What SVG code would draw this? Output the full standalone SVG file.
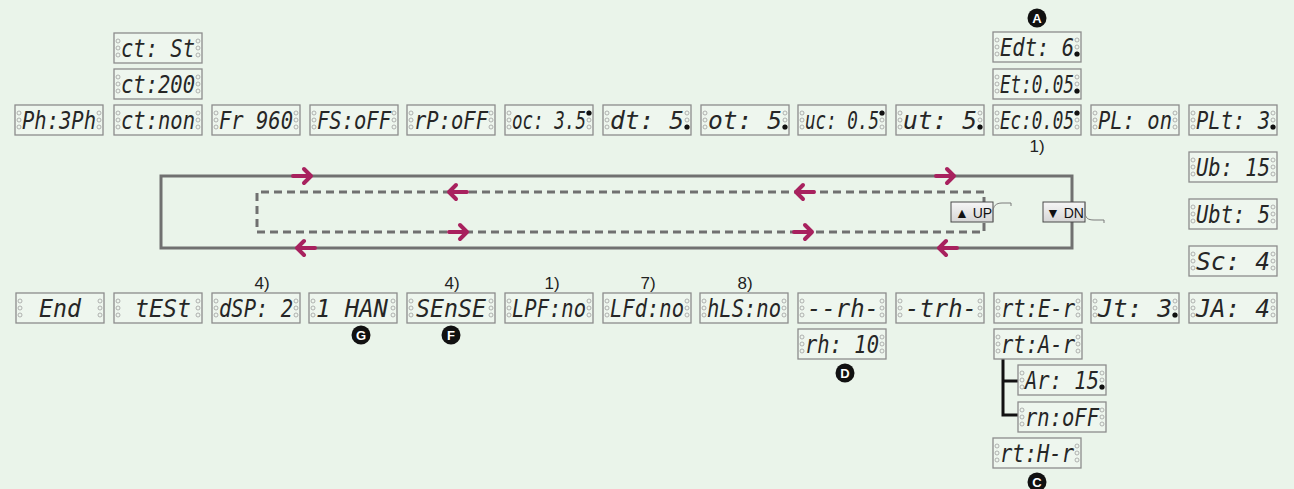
<svg xmlns="http://www.w3.org/2000/svg" xmlns:xlink="http://www.w3.org/1999/xlink" width="1294" height="489" viewBox="0 0 1294 489" xml:space="preserve">
<defs>
<style>
.bg{fill:#EAF4EA}
.frame{fill:#EEF6EE;stroke:#8C8C8C;stroke-width:1.3}
.led{fill:none;stroke:#A0A0A0;stroke-width:0.8}
.lit{fill:#111}
.seg{font-family:"DejaVu Sans Mono","Liberation Mono",monospace;font-style:italic;font-size:25px;fill:#262626}
.note{font-family:"Liberation Sans",Arial,sans-serif;font-size:17px;fill:#222;text-anchor:middle}
.badge{fill:#111}
.badgeT{font-family:"Liberation Sans",Arial,sans-serif;font-weight:bold;font-size:13px;fill:#fff;text-anchor:middle}
.loop{fill:none;stroke:#707070;stroke-width:3}
.dash{fill:none;stroke:#707070;stroke-width:3;stroke-dasharray:8 5}
.arr{fill:none;stroke:#A8215E;stroke-width:4;stroke-linecap:round;stroke-linejoin:round}
.tree{fill:none;stroke:#111;stroke-width:3}
.btn{fill:url(#btnG);stroke:#4A4A4A;stroke-width:1}
.fin{fill:none;stroke:#7A7A7A;stroke-width:1}
.btnT{font-family:"Liberation Sans",Arial,sans-serif;font-size:14px;fill:#111}
</style>
<linearGradient id="btnG" x1="0" y1="0" x2="0" y2="1">
<stop offset="0" stop-color="#F6F6F6"/>
<stop offset="1" stop-color="#D6D6D6"/>
</linearGradient>
<symbol id="disp" width="88" height="30" overflow="visible">
<rect class="frame" x="0" y="0" width="88" height="30"/>
<circle class="led" cx="4" cy="8" r="2"/><circle class="led" cx="4" cy="15" r="2"/><circle class="led" cx="4" cy="22" r="2"/>
<circle class="led" cx="84" cy="8" r="2"/><circle class="led" cx="84" cy="15" r="2"/><circle class="led" cx="84" cy="22" r="2"/>
</symbol>
</defs>
<rect class="bg" x="0" y="0" width="1294" height="489"/>

<g id="connectors">
<rect class="loop" x="161" y="176" width="911" height="72"/>
<path class="dash" d="M984,192 H257 V232 H984 V192"/>
<path class="arr" d="M293,176 H311 M304,169 L311,176 L304,183"/>
<path class="arr" d="M936,176 H954 M947,169 L954,176 L947,183"/>
<path class="arr" d="M315,248 H297 M304,241 L297,248 L304,255"/>
<path class="arr" d="M957,248 H939 M946,241 L939,248 L946,255"/>
<path class="arr" d="M467,192 H449 M456,185 L449,192 L456,199"/>
<path class="arr" d="M814,192 H796 M803,185 L796,192 L803,199"/>
<path class="arr" d="M449,232 H467 M460,225 L467,232 L460,239"/>
<path class="arr" d="M794,232 H812 M805,225 L812,232 L805,239"/>
<path class="tree" d="M1003,358 V415 H1018 M1003,381 H1018"/>
</g>

<g id="btn-up">
<rect class="btn" x="951" y="202" width="42" height="20"/>
<path class="fin" d="M993,222 V212 C993,206 996,203 1002,203 H1011 V206"/>
<text class="btnT" x="955" y="217.5">▲ UP</text>
</g>
<g id="btn-dn">
<rect class="btn" x="1043" y="202" width="42" height="20"/>
<path class="fin" d="M1085,202 V212 C1085,218 1088,220 1094,220 H1104 V223"/>
<text class="btnT" x="1046" y="217.5">▼ DN</text>
</g>

<g id="d-ctst"><use href="#disp" x="114" y="33"/><text class="seg" x="121" y="57" textLength="74" lengthAdjust="spacingAndGlyphs">ct: St</text></g>
<g id="d-ct200"><use href="#disp" x="114" y="69"/><text class="seg" x="121" y="93" textLength="74" lengthAdjust="spacingAndGlyphs">ct:200</text></g>
<g id="d-ph"><use href="#disp" x="15" y="105"/><text class="seg" x="22" y="129" textLength="74" lengthAdjust="spacingAndGlyphs">Ph:3Ph</text></g>
<g id="d-ctnon"><use href="#disp" x="114" y="105"/><text class="seg" x="121" y="129" textLength="74" lengthAdjust="spacingAndGlyphs">ct:non</text></g>
<g id="d-fr"><use href="#disp" x="212" y="105"/><text class="seg" x="219" y="129" textLength="74" lengthAdjust="spacingAndGlyphs">Fr 960</text></g>
<g id="d-fs"><use href="#disp" x="310" y="105"/><text class="seg" x="317" y="129" textLength="74" lengthAdjust="spacingAndGlyphs">FS:oFF</text></g>
<g id="d-rp"><use href="#disp" x="407" y="105"/><text class="seg" x="414" y="129" textLength="74" lengthAdjust="spacingAndGlyphs">rP:oFF</text></g>
<g id="d-oc"><use href="#disp" x="505" y="105"/><text class="seg" x="512" y="129" textLength="74" lengthAdjust="spacingAndGlyphs">oc: 3.5</text><circle class="lit" cx="589" cy="113" r="2.6"/></g>
<g id="d-dt"><use href="#disp" x="603" y="105"/><text class="seg" x="610" y="129" textLength="74" lengthAdjust="spacingAndGlyphs">dt:  5</text><circle class="lit" cx="687" cy="127" r="2.6"/></g>
<g id="d-ot"><use href="#disp" x="701" y="105"/><text class="seg" x="708" y="129" textLength="74" lengthAdjust="spacingAndGlyphs">ot:  5</text><circle class="lit" cx="785" cy="127" r="2.6"/></g>
<g id="d-uc"><use href="#disp" x="798" y="105"/><text class="seg" x="805" y="129" textLength="74" lengthAdjust="spacingAndGlyphs">uc: 0.5</text><circle class="lit" cx="882" cy="113" r="2.6"/></g>
<g id="d-ut"><use href="#disp" x="896" y="105"/><text class="seg" x="903" y="129" textLength="74" lengthAdjust="spacingAndGlyphs">ut:  5</text><circle class="lit" cx="980" cy="127" r="2.6"/></g>
<g id="d-ec"><use href="#disp" x="993" y="105"/><text class="seg" x="1000" y="129" textLength="74" lengthAdjust="spacingAndGlyphs">Ec:0.05</text><circle class="lit" cx="1077" cy="113" r="2.6"/></g>
<g id="d-pl"><use href="#disp" x="1091" y="105"/><text class="seg" x="1098" y="129" textLength="74" lengthAdjust="spacingAndGlyphs">PL: on</text></g>
<g id="d-plt"><use href="#disp" x="1189" y="105"/><text class="seg" x="1196" y="129" textLength="74" lengthAdjust="spacingAndGlyphs">PLt: 3</text><circle class="lit" cx="1273" cy="127" r="2.6"/></g>
<g id="d-edt"><use href="#disp" x="993" y="32"/><text class="seg" x="1000" y="56" textLength="74" lengthAdjust="spacingAndGlyphs">Edt: 6</text><circle class="lit" cx="1077" cy="54" r="2.6"/></g>
<g id="d-et"><use href="#disp" x="993" y="69"/><text class="seg" x="1000" y="93" textLength="74" lengthAdjust="spacingAndGlyphs">Et:0.05</text><circle class="lit" cx="1077" cy="91" r="2.6"/></g>
<g id="d-ub"><use href="#disp" x="1189" y="152"/><text class="seg" x="1196" y="176" textLength="74" lengthAdjust="spacingAndGlyphs">Ub: 15</text></g>
<g id="d-ubt"><use href="#disp" x="1189" y="199"/><text class="seg" x="1196" y="223" textLength="74" lengthAdjust="spacingAndGlyphs">Ubt: 5</text></g>
<g id="d-sc"><use href="#disp" x="1189" y="246"/><text class="seg" x="1196" y="270" textLength="74" lengthAdjust="spacingAndGlyphs">Sc:  4</text></g>

<g id="d-end"><use href="#disp" x="16" y="293"/><text class="seg" x="39" y="317" textLength="42" lengthAdjust="spacingAndGlyphs">End</text></g>
<g id="d-test"><use href="#disp" x="114" y="293"/><text class="seg" x="135" y="317" textLength="56" lengthAdjust="spacingAndGlyphs">tESt</text></g>
<g id="d-dsp"><use href="#disp" x="212" y="293"/><text class="seg" x="219" y="317" textLength="74" lengthAdjust="spacingAndGlyphs">dSP: 2</text></g>
<g id="d-han"><use href="#disp" x="309" y="293"/><text class="seg" x="316" y="317" textLength="72" lengthAdjust="spacingAndGlyphs">1 HAN</text></g>
<g id="d-sense"><use href="#disp" x="407" y="293"/><text class="seg" x="416" y="317" textLength="70" lengthAdjust="spacingAndGlyphs">SEnSE</text></g>
<g id="d-lpf"><use href="#disp" x="505" y="293"/><text class="seg" x="512" y="317" textLength="74" lengthAdjust="spacingAndGlyphs">LPF:no</text></g>
<g id="d-lfd"><use href="#disp" x="603" y="293"/><text class="seg" x="610" y="317" textLength="74" lengthAdjust="spacingAndGlyphs">LFd:no</text></g>
<g id="d-hls"><use href="#disp" x="700" y="293"/><text class="seg" x="707" y="317" textLength="74" lengthAdjust="spacingAndGlyphs">hLS:no</text></g>
<g id="d-rh"><use href="#disp" x="798" y="293"/><text class="seg" x="807" y="317" textLength="72" lengthAdjust="spacingAndGlyphs">--rh-</text></g>
<g id="d-trh"><use href="#disp" x="896" y="293"/><text class="seg" x="905" y="317" textLength="72" lengthAdjust="spacingAndGlyphs">-trh-</text></g>
<g id="d-rte"><use href="#disp" x="994" y="293"/><text class="seg" x="1001" y="317" textLength="74" lengthAdjust="spacingAndGlyphs">rt:E-r</text></g>
<g id="d-jt"><use href="#disp" x="1091" y="293"/><text class="seg" x="1098" y="317" textLength="74" lengthAdjust="spacingAndGlyphs">Jt:  3</text><circle class="lit" cx="1175" cy="315" r="2.6"/></g>
<g id="d-ja"><use href="#disp" x="1189" y="293"/><text class="seg" x="1196" y="317" textLength="74" lengthAdjust="spacingAndGlyphs">JA:  4</text></g>
<g id="d-rh10"><use href="#disp" x="798" y="329"/><text class="seg" x="805" y="353" textLength="74" lengthAdjust="spacingAndGlyphs">rh: 10</text></g>
<g id="d-rta"><use href="#disp" x="994" y="329"/><text class="seg" x="1001" y="353" textLength="74" lengthAdjust="spacingAndGlyphs">rt:A-r</text></g>
<g id="d-ar"><use href="#disp" x="1018" y="365"/><text class="seg" x="1025" y="389" textLength="74" lengthAdjust="spacingAndGlyphs">Ar: 15</text><circle class="lit" cx="1102" cy="387" r="2.6"/></g>
<g id="d-rnoff"><use href="#disp" x="1018" y="402"/><text class="seg" x="1025" y="426" textLength="74" lengthAdjust="spacingAndGlyphs">rn:oFF</text></g>
<g id="d-rth"><use href="#disp" x="993" y="438"/><text class="seg" x="1000" y="462" textLength="74" lengthAdjust="spacingAndGlyphs">rt:H-r</text></g>

<g id="notes">
<text class="note" x="1037" y="152">1)</text>
<text class="note" x="262" y="289">4)</text>
<text class="note" x="452" y="289">4)</text>
<text class="note" x="552" y="289">1)</text>
<text class="note" x="648" y="289">7)</text>
<text class="note" x="745" y="289">8)</text>
</g>

<g id="badge-a"><circle class="badge" cx="1037" cy="18" r="9.5"/><text class="badgeT" x="1037" y="22.5">A</text></g>
<g id="badge-g"><circle class="badge" cx="361" cy="335" r="9.5"/><text class="badgeT" x="361" y="339.5">G</text></g>
<g id="badge-f"><circle class="badge" cx="451" cy="335" r="9.5"/><text class="badgeT" x="451" y="339.5">F</text></g>
<g id="badge-d"><circle class="badge" cx="845" cy="373" r="9.5"/><text class="badgeT" x="845" y="377.5">D</text></g>
<g id="badge-c"><circle class="badge" cx="1037" cy="482" r="9.5"/><text class="badgeT" x="1037" y="486.5">C</text></g>
</svg>
